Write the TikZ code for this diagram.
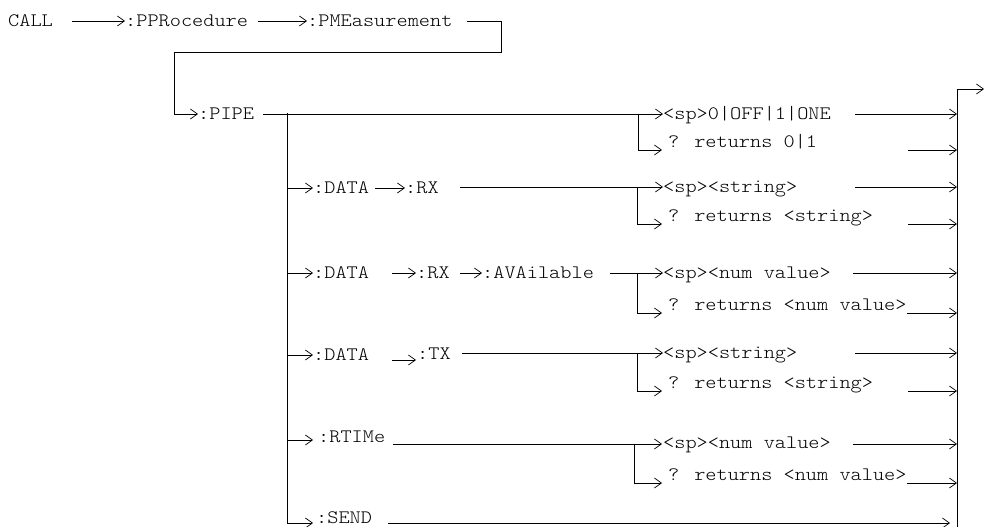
\documentclass[tikz,border=0pt]{standalone}
\usepackage{fontspec}
\newfontfamily\cour[FakeStretch=1.12]{lmmonolt10-regular.otf}
\usetikzlibrary{arrows.meta}
\begin{document}
\begin{tikzpicture}[x=1bp,y=-1bp,
  lbl/.style={font=\cour\fontsize{19bp}{20bp}\selectfont, text=black, inner sep=0pt, text height=11bp, text depth=0pt, anchor=west},
  ln/.style={line width=0.9bp, black},
  arr/.style={ln, -{Straight Barb[length=7bp,width=10bp,line width=0.7bp]}}]
\useasboundingbox (0,0) rectangle (984,527);

% top row
\node[lbl] (call) at (8,21) {CALL};
\node[lbl] (pproc) at (125,21) {:PPRocedure};
\node[lbl] (pmeas) at (307,21) {:PMEasurement};
\draw[arr] (72,21) -- (pproc.west);
\draw[arr] (258,21) -- (pmeas.west);
\node[lbl] (pipe) at (198,114) {:PIPE};
\draw[arr] (467,21) -| (501,52) -| (174,114) -- (pipe.west);

% left bar with SEND
\node[lbl] (send) at (316,518) {:SEND};
\coordinate (sendin) at (313,523);
\draw[arr] (287,113) |- (sendin);

% right bar
\coordinate (out) at (984,89);
\draw[arr] (957,527) |- (out);

% PIPE row
\node[lbl] (sp1) at (663,114) {<sp>0|OFF|1|ONE};
\node[lbl] (q1) at (668,142) {? returns 0|1};
\draw[arr] (263,114) -- (sp1.west);
\draw[arr] (638,114) |- (662,150);
\draw[arr] (855,114) -- (957,114);
\draw[arr] (908,150) -- (957,150);

% DATA RX row
\node[lbl] (d1) at (313,188) {:DATA};
\node[lbl] (rx1) at (405,188) {:RX};
\node[lbl] (sp2) at (663,187) {<sp><string>};
\node[lbl] (q2) at (668,216) {? returns <string>};
\draw[arr] (287,188) -- (d1.west);
\draw[arr] (375,188) -- (rx1.west);
\draw[arr] (460,187) -- (sp2.west);
\draw[arr] (637,187) |- (662,224);
\draw[arr] (855,187) -- (957,187);
\draw[arr] (908,224) -- (957,224);

% DATA RX AVAilable row
\node[lbl] (d2) at (313,273) {:DATA};
\node[lbl] (rx2) at (416,273) {:RX};
\node[lbl] (av) at (482,273) {:AVAilable};
\node[lbl] (sp3) at (663,273) {<sp><num value>};
\node[lbl] (q3) at (668,305) {? returns <num value>};
\draw[arr] (287,273) -- (d2.west);
\draw[arr] (392,273) -- (rx2.west);
\draw[arr] (460,273) -- (av.west);
\draw[arr] (610,273) -- (sp3.west);
\draw[arr] (637,273) |- (662,313);
\draw[arr] (853,273) -- (957,273);
\draw[arr] (907,313) -- (957,313);

% DATA TX row
\node[lbl] (d3) at (313,355) {:DATA};
\node[lbl] (tx) at (417,354) {:TX};
\node[lbl] (sp4) at (663,353) {<sp><string>};
\node[lbl] (q4) at (668,383) {? returns <string>};
\draw[arr] (287,355) -- (d3.west);
\draw[arr] (392,360) -- (416,360);
\draw[arr] (462,353) -- (sp4.west);
\draw[arr] (637,353) |- (662,391);
\draw[arr] (855,353) -- (957,353);
\draw[arr] (908,391) -- (957,391);

% RTIMe row
\node[lbl] (rt) at (318,437) {:RTIMe};
\node[lbl] (sp5) at (663,443) {<sp><num value>};
\node[lbl] (q5) at (668,475) {? returns <num value>};
\draw[arr] (287,440) -- (313,440);
\draw[arr] (393,444) -- (662,444);
\draw[arr] (634,444) |- (662,483);
\draw[arr] (853,444) -- (957,444);
\draw[arr] (907,483) -- (957,483);

% SEND out
\draw[arr] (388,523) -- (950,523);
\end{tikzpicture}
\end{document}
